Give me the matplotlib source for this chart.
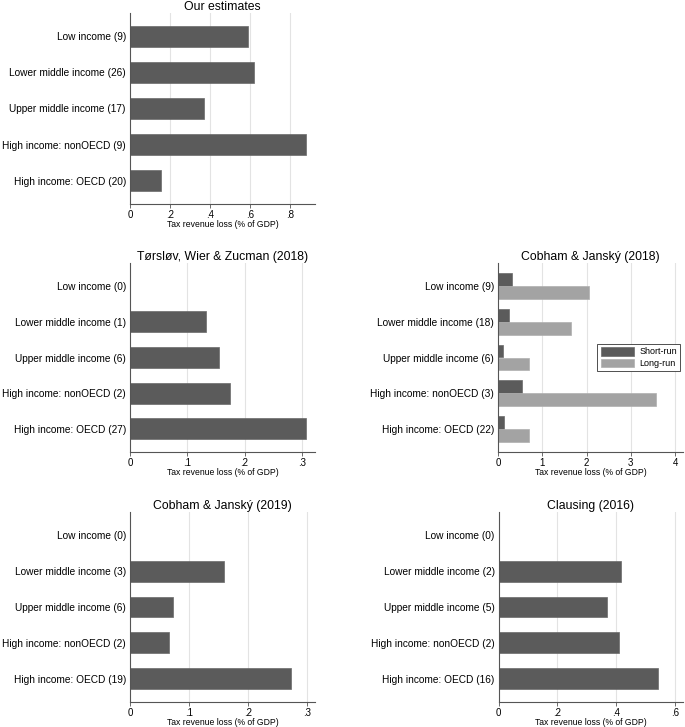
import matplotlib.pyplot as plt
import numpy as np

plt.rcParams['font.family'] = ['Liberation Sans', 'DejaVu Sans']

# ---------------- data ----------------
groups = ["Low income", "Lower middle income", "Upper middle income",
          "High income: nonOECD", "High income: OECD"]

our_n = [9, 26, 17, 9, 20]
our_vals = [0.59, 0.62, 0.372, 0.88, 0.155]

twz_n = [0, 1, 6, 2, 27]
twz_vals = [np.nan, 0.1326, 0.156, 0.1745, 0.308]

cj18_n = [9, 18, 6, 3, 22]
cj18_short = [0.30, 0.24, 0.10, 0.53, 0.14]
cj18_long = [2.05, 1.65, 0.69, 3.56, 0.70]

cj19_n = [0, 3, 6, 2, 19]
cj19_vals = [np.nan, 0.160, 0.073, 0.067, 0.274]

cl_n = [0, 2, 5, 2, 16]
cl_vals = [np.nan, 0.416, 0.369, 0.41, 0.542]

dark = '#5b5b5b'
light = '#a3a3a3'
grid_c = '#e3e3e3'
axis_c = '#555555'

W, H = 685, 727
fig = plt.figure(figsize=(W / 100, H / 100), dpi=100)


def make_ax(x0, x1, ytop, ybot):
    return fig.add_axes([x0 / W, 1 - ybot / H, (x1 - x0) / W, (ybot - ytop) / H])


def style(ax, title, n, ticks, ticklabels, xmax):
    ax.set_xlim(0, xmax)
    ax.set_ylim(4.65, -0.65)
    ax.set_yticks(range(5))
    ax.set_yticklabels([f"{g} ({k})" for g, k in zip(groups, n)], fontsize=7.3)
    ax.tick_params(axis='y', length=0, pad=3)
    ax.set_xticks(ticks)
    ax.set_xticklabels(ticklabels, fontsize=7)
    ax.tick_params(axis='x', length=3, width=0.6, color=axis_c, pad=1.5)
    for t in ticks[1:]:
        ax.axvline(t, color=grid_c, lw=0.8, zorder=0)
    for s in ['top', 'right']:
        ax.spines[s].set_visible(False)
    for s in ['left', 'bottom']:
        ax.spines[s].set_color(axis_c)
        ax.spines[s].set_linewidth(0.8)
    ax.set_title(title, fontsize=8.8, pad=2)
    ax.set_xlabel("Tax revenue loss (% of GDP)", fontsize=6.2, labelpad=0)


y = np.arange(5)

ax1 = make_ax(130, 315, 13, 204)
ax1.barh(y, our_vals, height=0.58, color=dark, edgecolor='#6a6a6a', lw=0.5, zorder=2)
style(ax1, "Our estimates", our_n, [0, 0.2, 0.4, 0.6, 0.8],
      ["0", ".2", ".4", ".6", ".8"], 0.925)

ax2 = make_ax(130, 315, 263, 452)
ax2.barh(y, twz_vals, height=0.58, color=dark, edgecolor='#6a6a6a', lw=0.5, zorder=2)
style(ax2, "Tørsløv, Wier & Zucman (2018)", twz_n, [0, 0.1, 0.2, 0.3],
      ["0", ".1", ".2", ".3"], 0.323)

ax3 = make_ax(498.3, 683, 263, 452)
ax3.barh(y - 0.18, cj18_short, height=0.36, color=dark, edgecolor='#6a6a6a', lw=0.5,
         zorder=2, label="Short-run")
ax3.barh(y + 0.18, cj18_long, height=0.36, color=light, edgecolor='#b0b0b0', lw=0.5,
         zorder=2, label="Long-run")
style(ax3, "Cobham & Janský (2018)", cj18_n, [0, 1, 2, 3, 4],
      ["0", "1", "2", "3", "4"], 4.18)
leg = ax3.legend(loc='upper right', bbox_to_anchor=(0.985, 0.572), borderaxespad=0,
                 fontsize=6.5, handlelength=3.7, handleheight=1.1, fancybox=False,
                 framealpha=1, borderpad=0.35, labelspacing=0.25, handletextpad=0.6)
leg.get_frame().set_edgecolor('#333333')
leg.get_frame().set_linewidth(0.6)

ax4 = make_ax(130, 315, 512, 702)
ax4.barh(y, cj19_vals, height=0.58, color=dark, edgecolor='#6a6a6a', lw=0.5, zorder=2)
style(ax4, "Cobham & Janský (2019)", cj19_n, [0, 0.1, 0.2, 0.3],
      ["0", ".1", ".2", ".3"], 0.314)

ax5 = make_ax(498.7, 683, 512, 702)
ax5.barh(y, cl_vals, height=0.58, color=dark, edgecolor='#6a6a6a', lw=0.5, zorder=2)
style(ax5, "Clausing (2016)", cl_n, [0, 0.2, 0.4, 0.6],
      ["0", ".2", ".4", ".6"], 0.628)

fig.savefig("out.png", dpi=100, facecolor='white')
